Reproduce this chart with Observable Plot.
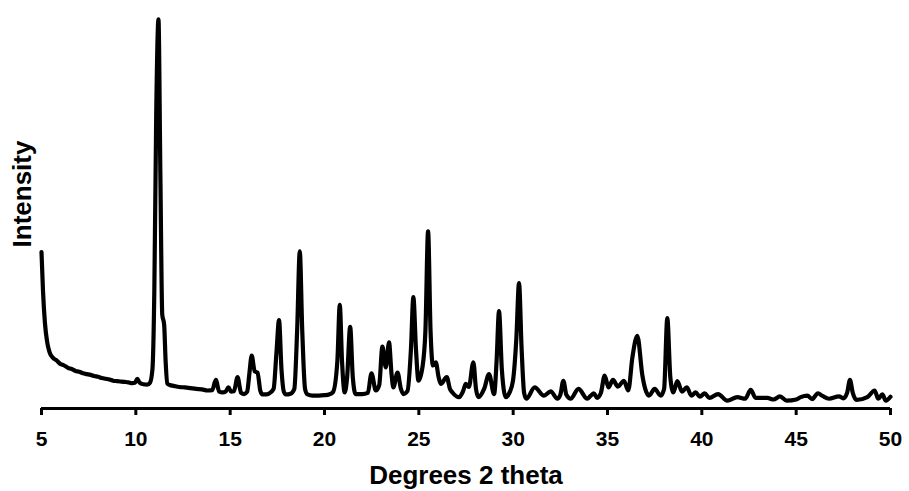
<!DOCTYPE html>
<html>
<head>
<meta charset="utf-8">
<script src="https://cdn.jsdelivr.net/npm/d3@7"></script>
<script src="https://cdn.jsdelivr.net/npm/@observablehq/plot@0.6"></script>
<style>
  html, body { margin: 0; padding: 0; background: #fff; }
</style>
</head>
<body>
<div id="chart"></div>
<script>
const twoTheta = [
  5.00, 5.08, 5.18, 5.30, 5.42, 5.60, 5.80, 6.00, 6.20, 6.40, 6.60, 6.80, 7.00, 7.20, 7.40, 7.60, 7.80, 8.00, 8.20, 8.40,
  8.60, 8.80, 9.00, 9.20, 9.40, 9.60, 9.80, 9.95, 10.08, 10.20, 10.40, 10.60, 10.75, 10.88, 10.98, 11.08, 11.20, 11.30, 11.40, 11.50,
  11.58, 11.67, 11.80, 12.00, 12.30, 12.60, 12.90, 13.20, 13.50, 13.80, 14.05, 14.24, 14.42, 14.60, 14.75, 14.91, 15.05, 15.20, 15.39, 15.58,
  15.74, 15.90, 16.02, 16.14, 16.30, 16.45, 16.60, 16.71, 16.90, 17.05, 17.30, 17.45, 17.59, 17.72, 17.85, 17.95, 18.20, 18.40, 18.55, 18.69,
  18.82, 18.97, 19.10, 19.36, 19.70, 20.00, 20.24, 20.45, 20.68, 20.81, 20.93, 21.07, 21.20, 21.36, 21.50, 21.65, 22.00, 22.30, 22.49, 22.72,
  22.90, 23.07, 23.25, 23.42, 23.55, 23.65, 23.87, 24.05, 24.18, 24.40, 24.58, 24.71, 24.85, 24.98, 25.19, 25.35, 25.49, 25.62, 25.75, 25.90,
  26.05, 26.16, 26.48, 26.65, 26.78, 27.13, 27.35, 27.49, 27.65, 27.89, 28.03, 28.16, 28.46, 28.72, 28.99, 29.12, 29.25, 29.40, 29.61, 29.80,
  29.99, 30.17, 30.31, 30.45, 30.58, 30.70, 31.14, 31.63, 31.99, 32.34, 32.50, 32.66, 32.82, 33.05, 33.46, 33.93, 34.10, 34.28, 34.45, 34.65,
  34.85, 35.05, 35.29, 35.55, 35.87, 36.10, 36.32, 36.58, 36.85, 37.00, 37.20, 37.50, 37.82, 38.00, 38.17, 38.33, 38.49, 38.70, 38.95, 39.20,
  39.45, 39.67, 39.90, 40.15, 40.40, 40.86, 41.35, 41.88, 42.30, 42.59, 42.85, 43.47, 43.80, 44.14, 44.50, 45.00, 45.24, 45.59, 45.85, 46.15,
  46.40, 46.74, 47.27, 47.50, 47.70, 47.85, 48.00, 48.20, 48.77, 49.16, 49.35, 49.57, 49.75, 50.00
];
const intensity = [
  40, 30, 22, 17, 14.5, 13, 12.3, 11.4, 11.0, 10.4, 10.1, 9.6, 9.4, 9.0, 8.8, 8.6, 8.3, 8.1, 7.8, 7.6,
  7.4, 7.1, 7.0, 6.9, 6.8, 6.7, 6.5, 6.6, 7.6, 6.6, 6.2, 6.1, 6.6, 10, 30, 75, 99.5, 60, 24, 21.5,
  12, 6.4, 6.0, 5.8, 5.5, 5.4, 5.2, 5.0, 4.9, 4.6, 4.7, 7.3, 4.3, 4.1, 4.3, 5.4, 4.3, 4.4, 8.0, 4.0,
  3.7, 4.3, 9, 13.5, 9.5, 9.2, 4.5, 3.6, 3.6, 3.8, 5, 14, 22.6, 10, 4.2, 3.6, 3.8, 5, 20, 40.2,
  20, 5, 3.6, 3.3, 3.3, 3.4, 3.6, 4.2, 12, 26.5, 12, 4.1, 8, 20.9, 8, 3.7, 3.7, 4.0, 9.0, 4.6,
  6, 15.8, 10.5, 16.9, 9, 5.4, 9.2, 5, 3.7, 4.5, 15, 28.5, 15, 7.1, 10.5, 20, 45.3, 20, 11, 11.8,
  8, 6.3, 8.0, 5, 4.1, 2.9, 4.5, 6.3, 5.5, 11.8, 5, 2.9, 5.0, 8.8, 3.7, 12, 24.9, 10, 2.9, 4,
  7.1, 18, 32.1, 15, 4, 2.5, 5.4, 3.3, 4.4, 2.5, 3.5, 7.1, 3.5, 2.5, 5.0, 2.5, 3.2, 3.9, 2.7, 4,
  8.4, 5.4, 7.3, 5.6, 7.1, 4.6, 13.1, 18.6, 8.4, 5, 3.3, 5.0, 3.3, 5, 23.1, 8, 4.1, 7.0, 4.3, 5.4,
  3.3, 4.1, 3.0, 3.9, 2.7, 3.7, 2.0, 2.9, 2.5, 4.8, 2.7, 2.7, 2.3, 3.1, 2.0, 2.3, 2.9, 3.3, 2.4, 3.9,
  3.2, 2.5, 3.1, 2.6, 4, 7.3, 4, 2.2, 2.9, 4.6, 2.5, 3.6, 2.0, 3.0
];
const xTicks = [5, 10, 15, 20, 25, 30, 35, 40, 45, 50];
const xTitle = "Degrees 2 theta";
const yTitle = "Intensity";

const pattern = twoTheta.map((t, i) => ({t, v: intensity[i]}));

const chart = Plot.plot({
  width: 909,
  height: 491,
  marginLeft: 41,
  marginRight: 19,
  marginTop: 17,
  marginBottom: 83,
  style: {fontFamily: "'Liberation Sans', Arial, sans-serif", fontWeight: "bold", fontSize: "21px", color: "#000", background: "#fff"},
  x: {domain: [5, 50]},
  y: {domain: [0, 100]},
  marks: [
    Plot.ruleY([0], {stroke: "#000", strokeWidth: 3}),
    Plot.axisX({ticks: xTicks, tickSize: 7, tickPadding: 16, strokeWidth: 3, tickFormat: d => String(d), label: null, fill: "#000", stroke: "#000"}),
    Plot.axisY({ticks: [], label: null}),
    Plot.line(pattern, {x: "t", y: "v", curve: "monotone-x", stroke: "#000", strokeWidth: 4.2, strokeLinejoin: "round", strokeLinecap: "round"}),
    Plot.text([xTitle], {text: d => d, frameAnchor: "bottom", textAnchor: "middle", dy: 75, fontSize: 26, fontWeight: "bold", fill: "#000"}),
    Plot.text([yTitle], {text: d => d, frameAnchor: "left", textAnchor: "middle", rotate: -90, dx: -19, dy: -19, fontSize: 26, fontWeight: "bold", fill: "#000"})
  ]
});
document.getElementById("chart").appendChild(chart);
</script>
</body>
</html>
